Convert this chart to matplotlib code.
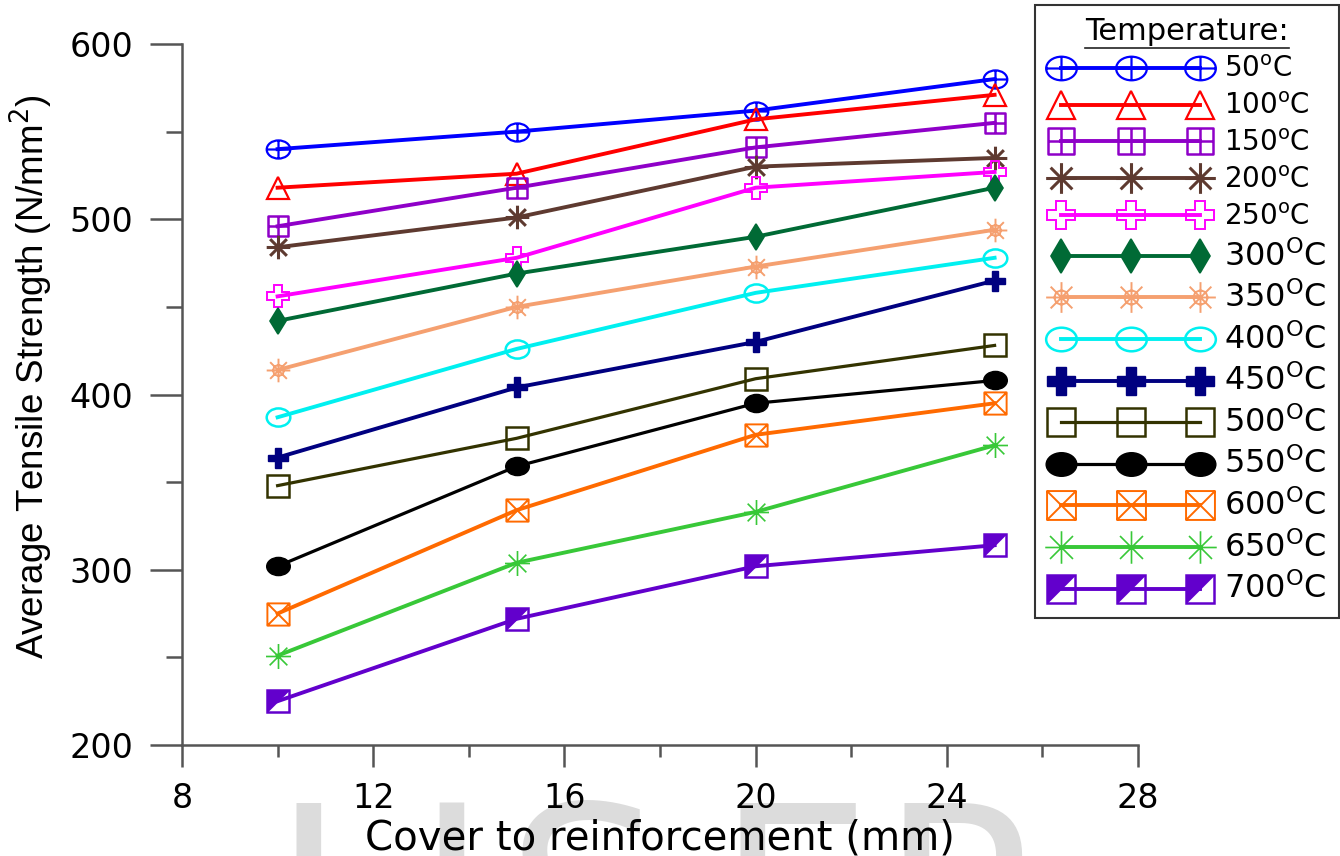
import numpy as np
import matplotlib
matplotlib.use("Agg")
import matplotlib.pyplot as plt
from matplotlib.path import Path
from matplotlib.lines import Line2D
from matplotlib.legend_handler import HandlerLine2D, HandlerTuple

# -- data
cover = [10, 15, 20, 25]
temps = [50, 100, 150, 200, 250, 300, 350, 400, 450, 500, 550, 600, 650, 700]
s50 = [540, 550, 562, 580]
s100 = [518, 526, 557, 571]
s150 = [496, 518, 541, 555]
s200 = [484, 501, 530, 535]
s250 = [456, 478, 518, 527]
s300 = [442, 469, 490, 518]
s350 = [414, 450, 473, 494]
s400 = [387, 426, 458, 478]
s450 = [364, 404, 430, 465]
s500 = [348, 375, 409, 428]
s550 = [302, 359, 395, 408]
s600 = [275, 334, 377, 395]
s650 = [251, 304, 333, 371]
s700 = [225, 272, 302, 314]
series = [s50, s100, s150, s200, s250, s300, s350, s400, s450, s500, s550, s600, s650, s700]

colors = ["#0000ff", "#ff0000", "#8f00c8", "#5e3a30", "#ff00ff", "#006a35", "#f5a070",
          "#00f0f0", "#000080", "#333300", "#000000", "#ff6a00", "#38c838", "#6200cc"]

# -- custom marker shapes
M, L, C = Path.MOVETO, Path.LINETO, Path.CLOSEPOLY
circ = Path.unit_circle()
ellipse = Path(circ.vertices * [1.3, 1.0], circ.codes)
small_circ = Path(circ.vertices * 0.45, circ.codes)
square = Path([[-1, -1], [1, -1], [1, 1], [-1, 1], [-1, -1]], [M, L, L, L, C])
cross = Path([[-1, 0], [1, 0], [0, -1], [0, 1]], [M, L, M, L])
wide_cross = Path([[-1.3, 0], [1.3, 0], [0, -1], [0, 1]], [M, L, M, L])
diag = Path([[-1, -1], [1, 1], [-1, 1], [1, -1]], [M, L, M, L])
ang = np.deg2rad(np.arange(0, 180, 45))
star_v = []
for a in ang:
    star_v += [[np.cos(a), np.sin(a)], [-np.cos(a), -np.sin(a)]]
star = Path(star_v, [M, L] * 4)
corner = Path([[-1, -1], [-1, 1], [1, 1], [-1, -1]], [M, L, L, C])

m_circplus = Path.make_compound_path(ellipse, wide_cross)
m_boxplus = Path.make_compound_path(square, cross)
m_boxx = Path.make_compound_path(square, diag)
m_sun = Path.make_compound_path(star, small_circ)

# marker, size, filled, edge width
styles = [
    (m_circplus, 17, False, 1.6),
    ("^", 16, False, 1.6),
    (m_boxplus, 14.5, False, 1.8),
    (star, 17, False, 2.2),
    ("P", 16, False, 1.4),
    ("d", 13, True, 1.2),
    (m_sun, 17, False, 1.4),
    (ellipse, 17, False, 1.8),
    ("P", 15, True, 1.0),
    ("s", 16, False, 1.8),
    (ellipse, 17, True, 1.0),
    (m_boxx, 16, False, 1.4),
    (star, 18, False, 1.2),
    ("s", 16, False, 1.8),
]

fig = plt.figure(figsize=(13.4, 8.56), dpi=100)
ax = fig.add_axes([182 / 1340, 1 - 745 / 856, (1138 - 182) / 1340, (745 - 44) / 856])
ax.patch.set_alpha(0)

handles = []
for vals, col, (mk, ms, filled, mew) in zip(series, colors, styles):
    lw = 2.3 if col in ("#000000", "#333300") else 2.8
    ln, = ax.plot(cover, vals, color=col, lw=lw, marker=mk, ms=ms,
                  mfc=col if filled else "none", mec=col, mew=mew, zorder=3)
    handles.append(ln)

# 700 C: square with a filled corner
h700 = ax.plot(cover, s700, ls="none", marker=corner, ms=16, mfc=colors[-1],
               mec=colors[-1], mew=0.5, zorder=4)[0]
handles[-1] = (handles[-1], h700)

labels = []
for t in temps:
    if t <= 250:
        labels.append(r"%d$^{\rm o}$C" % t)
    else:
        labels.append(r"%d$^{\rm O}$C" % t)

ax.set_xlim(8, 28)
ax.set_ylim(200, 600)
ax.set_xticks([8, 12, 16, 20, 24, 28])
ax.set_xticks([10, 14, 18, 22, 26], minor=True)
ax.set_yticks([200, 300, 400, 500, 600])
ax.set_yticks([250, 350, 450, 550], minor=True)
for s in ["top", "right"]:
    ax.spines[s].set_visible(False)
for s in ["left", "bottom"]:
    ax.spines[s].set_color("#555555")
    ax.spines[s].set_linewidth(1.8)
ax.tick_params(axis="x", which="major", length=16, width=1.8, color="#555555",
               labelsize=24, pad=11)
ax.tick_params(axis="x", which="minor", length=8.5, width=1.8, color="#555555")
ax.tick_params(axis="y", which="major", length=23, width=1.8, color="#555555",
               labelsize=24, pad=12)
ax.tick_params(axis="y", which="minor", length=11.5, width=1.8, color="#555555")

ax.set_xlabel("Cover to reinforcement (mm)", fontsize=29, labelpad=2)
ax.set_ylabel("Average Tensile Strength (N/mm$^2$)", fontsize=26.5,
              family=["Liberation Sans", "DejaVu Sans"])
ax.yaxis.set_label_coords((55 - 182) / 956, 0.525)

hmap = {Line2D: HandlerLine2D(marker_pad=0.5, numpoints=3),
        tuple: HandlerTuple(ndivide=1, pad=0)}
leg = fig.legend(handles, labels, loc="upper left",
                 bbox_to_anchor=(1035 / 1340, 1 - 5 / 856),
                 handler_map=hmap, fontsize=20, title="Temperature:",
                 title_fontsize=22, handlelength=6.0, handletextpad=0.35,
                 labelspacing=0.32, markerscale=1.3, borderpad=0.45,
                 fancybox=False, framealpha=1, edgecolor="#333333",
                 borderaxespad=0)
leg.get_frame().set_linewidth(1.5)
for txt, t in zip(leg.get_texts(), temps):
    txt.set_fontsize(20 if t <= 250 else 23)

# underline the legend title
fig.canvas.draw()
bb = leg.get_title().get_window_extent()
fig.add_artist(Line2D([bb.x0 / 1340, bb.x1 / 1340],
                      [(bb.y0 - 1) / 856, (bb.y0 - 1) / 856],
                      color="#222222", lw=1.2, zorder=10))

# faint watermark behind the axis label
for ch, xl in zip("IJSER", [272, 415, 505, 715, 880]):
    fig.text(xl / 1340, 1 - 985 / 856, ch, fontsize=180, color="#dcdcdc",
             ha="left", va="baseline", zorder=-5)

fig.savefig("out.png", dpi=100)
